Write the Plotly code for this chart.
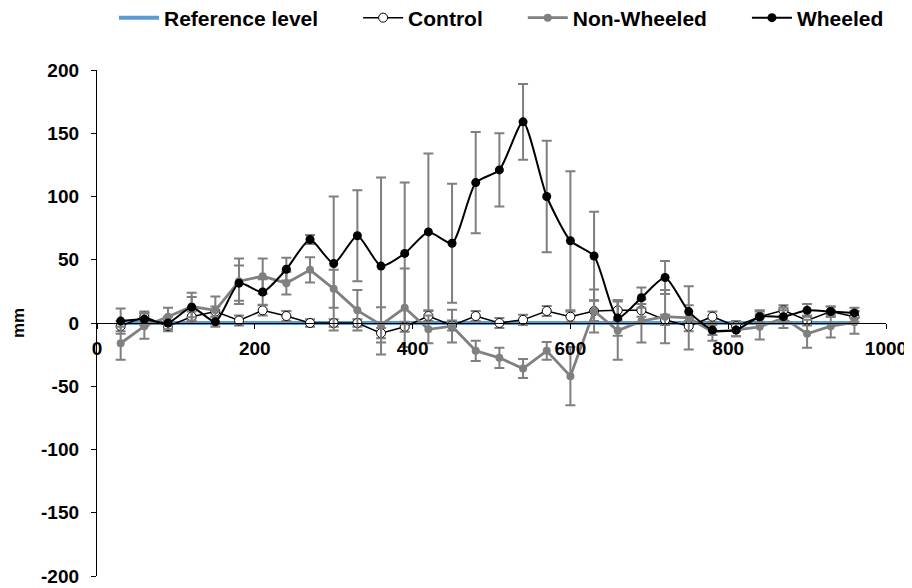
import plotly.graph_objects as go

# ---- data ----
distance = [30, 60, 90, 120, 150, 180, 210, 240, 270, 300, 330, 360, 390, 420, 450, 480,
            510, 540, 570, 600, 630, 660, 690, 720, 750, 780, 810, 840, 870, 900, 930, 960]

reference_level = [0] * len(distance)

control = [-2.5, 5, -2.5, 5, 9, 2, 10, 5.5, 0, 0, 0, -8, -3, 5.5, -2, 5.5,
           0, 2.5, 9.5, 5, 9.5, 10, 10, 2.5, -2.5, 5, -2.5, 5, 10, 2, 9, 5]
control_err = [4, 4, 4, 4, 4, 4, 4, 4, 3, 3, 3, 4, 4, 4, 4, 4,
               4, 4, 4, 4, 8, 8, 5, 4, 4, 4, 4, 4, 4, 4, 4, 4]

non_wheeled = [-16, -2.5, 5, 13, 10, 33, 37, 31.5, 42, 27, 10, -1.5, 12, -5, -2.5, -22,
               -27.5, -36, -22, -42, 9.5, -6, 1.5, 5, 4, -7, -5.5, -3, 4, -8.5, -2.5, 0.5]
non_wheeled_err = [13, 10, 7, 11, 11, 18, 14, 9, 10, 15, 16, 14, 31, 11, 13, 8,
                   8, 7.5, 7, 23, 17, 23, 17, 21, 25, 7, 5, 10, 8, 11, 9, 9]

wheeled = [1.5, 3, 0, 12.5, 1, 31.5, 24.5, 42.5, 66, 47, 69, 45, 55, 72, 63, 111,
           121, 159, 100, 65, 53, 4, 20, 36, 9, -5.5, -5.5, 5, 5, 10, 9, 8]
wheeled_err = [10, 5, 5, 8, 4, 14, 10, 9, 3.5, 53, 36, 70, 56, 62, 47, 40,
               29, 30, 44, 55, 35, 14, 8, 13, 5, 4, 5, 5, 5, 5, 4, 4]

x_ticks = [0, 200, 400, 600, 800, 1000]
y_ticks = [-200, -150, -100, -50, 0, 50, 100, 150, 200]
y_tick_text = ["-200", "-150", "-100", "-50", "0", "50", "100", "150", "200"]

FONT = "Liberation Sans, Arial, sans-serif"
ERR_COLOR = "#7f7f7f"
PAD = "\u00a0" * 6  # spacing after legend labels

# the page body adds an 8px offset, so the figure is 8px smaller each way
W, H = 904, 580

fig = go.Figure()

fig.add_trace(go.Scatter(
    x=distance, y=reference_level, name="Reference level" + PAD, mode="lines",
    line=dict(color="#5b9bd5", width=4),
))

fig.add_trace(go.Scatter(
    x=distance, y=control, name="Control" + PAD, mode="lines+markers",
    line=dict(color="black", width=1.5),
    marker=dict(symbol="circle", size=9, color="white", line=dict(color="black", width=1)),
    error_y=dict(type="data", array=control_err, color=ERR_COLOR, thickness=2, width=5),
))

fig.add_trace(go.Scatter(
    x=distance, y=non_wheeled, name="Non-Wheeled" + PAD, mode="lines+markers",
    line=dict(color="#808080", width=2.8),
    marker=dict(symbol="circle", size=8, color="#808080"),
    error_y=dict(type="data", array=non_wheeled_err, color=ERR_COLOR, thickness=2, width=5),
))

fig.add_trace(go.Scatter(
    x=distance, y=wheeled, name="Wheeled", mode="lines+markers",
    line=dict(color="black", width=2, shape="spline", smoothing=0.6),
    marker=dict(symbol="circle", size=9, color="black"),
    error_y=dict(type="data", array=wheeled_err, color=ERR_COLOR, thickness=2, width=5),
))

fig.update_layout(
    width=W, height=H,
    margin=dict(l=89, r=26, t=62, b=12, autoexpand=False),
    paper_bgcolor="white", plot_bgcolor="white",
    font=dict(family=FONT, size=19, color="black", weight="bold"),
    showlegend=True,
    legend=dict(
        orientation="h", xref="container", x=106 / W, xanchor="left",
        yref="container", y=1 - 10 / H, yanchor="middle",
        font=dict(family=FONT, size=21, color="black", weight="bold"),
        bgcolor="rgba(0,0,0,0)", itemwidth=40, tracegroupgap=0,
    ),
    xaxis=dict(
        range=[0, 1000], tickvals=x_ticks, ticktext=[str(v) for v in x_ticks],
        showgrid=False, zeroline=False, showline=True, linecolor="black", linewidth=1.3,
        ticks="outside", ticklen=5, tickcolor="black", tickwidth=1.3,
        anchor="free", position=0.5, ticklabelstandoff=3, automargin=False,
        tickfont=dict(family=FONT, size=19, color="black", weight="bold"),
    ),
    yaxis=dict(
        range=[-200, 200], domain=[0, 1], tickvals=y_ticks, ticktext=y_tick_text,
        showgrid=False, zeroline=False, showline=True, linecolor="black", linewidth=1.3,
        ticks="outside", ticklen=5, tickcolor="black", tickwidth=1.3,
        ticklabelstandoff=8, automargin=False,
        tickfont=dict(family=FONT, size=19, color="black", weight="bold"),
    ),
    annotations=[dict(
        text="mm", xref="paper", yref="paper", x=-79 / 789, y=0.5,
        xanchor="center", yanchor="middle", textangle=-90, showarrow=False,
        font=dict(family=FONT, size=17, color="black", weight="bold"),
    )],
)

fig.write_html("out.html")
